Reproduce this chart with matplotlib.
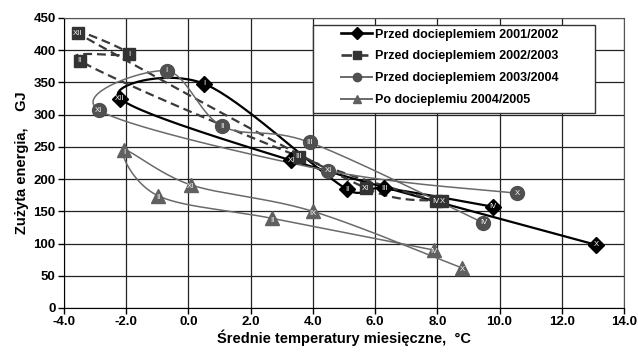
import numpy as np
import matplotlib
matplotlib.use("Agg")
import matplotlib.pyplot as plt
from matplotlib.lines import Line2D
from matplotlib.patches import Rectangle

plt.rcParams['font.family'] = ['Liberation Sans', 'DejaVu Sans']

# series data (x = mean monthly temperature, y = energy used), in drawing order
s1_x = [13.1, 3.3, -2.2, 0.5, 5.1, 6.3, 9.8]
s1_y = [98, 229, 325, 348, 184, 186, 157]
s1_lab = ["X", "XI", "XII", "I", "II", "III", "IV"]

s2_x = [8.15, 5.7, -3.55, -1.9, -3.5, 3.55, 7.95]
s2_y = [166, 186, 426, 394, 384, 235, 166]
s2_lab = ["X", "XI", "XII", "I", "II", "III", "IV"]

s3_x = [10.56, 4.49, -2.88, -0.7, 1.09, 3.9, 9.48]
s3_y = [178, 213, 307, 368, 282, 257, 132]
s3_lab = ["X", "XI", "XI", "I", "II", "III", "IV"]

s4_x = [8.8, 4.0, 0.08, -2.07, -0.97, 2.7, 7.88]
s4_y = [62, 150, 191, 245, 174, 139, 90]
s4_lab = ["X", "IX", "XI", "I", "II", "II", "IV"]

names = ["Przed docieplemiem 2001/2002", "Przed docieplemiem 2002/2003",
         "Przed docieplemiem 2003/2004", "Po docieplemiu 2004/2005"]

XMIN, XMAX, YMIN, YMAX = -4, 14, 0, 450
SX, SY = 560 / 18.0, 290 / 450.0   # px per unit, for smoothing in screen space


def cap(v, lim):
    n = np.hypot(*v)
    return v if n <= lim else v * lim / n


def smooth(xs, ys, n=40):
    p = np.column_stack([np.array(xs) * SX, np.array(ys) * SY])
    pts = []
    for i in range(len(p) - 1):
        p0 = p[i - 1] if i > 0 else p[i]
        p3 = p[i + 2] if i + 2 < len(p) else p[i + 1]
        seg = np.hypot(*(p[i + 1] - p[i]))
        c1 = p[i] + cap((p[i + 1] - p0) / 6.0, 0.5 * seg)
        c2 = p[i + 1] - cap((p3 - p[i]) / 6.0, 0.5 * seg)
        t = np.linspace(0, 1, n)[:, None]
        b = ((1 - t) ** 3 * p[i] + 3 * (1 - t) ** 2 * t * c1
             + 3 * (1 - t) * t ** 2 * c2 + t ** 3 * p[i + 1])
        pts.append(b if i == 0 else b[1:])
    pts = np.vstack(pts)
    return pts[:, 0] / SX, pts[:, 1] / SY


fig = plt.figure(figsize=(6.38, 3.55), dpi=100)
ax = fig.add_axes([64 / 638, 47 / 355, 560 / 638, 290 / 355])

styles = [
    dict(x=s1_x, y=s1_y, lab=s1_lab, lc="black", mc="black", lw=1.6, ls="-", m="D", ms=8.5),
    dict(x=s2_x, y=s2_y, lab=s2_lab, lc="#3a3a3a", mc="#333333", lw=1.6, ls="--", m="s", ms=9),
    dict(x=s3_x, y=s3_y, lab=s3_lab, lc="#6a6a6a", mc="#505050", lw=1.1, ls="-", m="o", ms=10),
    dict(x=s4_x, y=s4_y, lab=s4_lab, lc="#6a6a6a", mc="#606060", lw=1.1, ls="-", m="^", ms=10.5),
]

handles = []
for k, st in enumerate(styles):
    cx, cy = smooth(st["x"], st["y"])
    line, = ax.plot(cx, cy, color=st["lc"], lw=st["lw"], zorder=3 + k)
    if st["ls"] == "--":
        line.set_dashes((4, 2.2))
    ax.plot(st["x"], st["y"], linestyle="none", marker=st["m"], ms=st["ms"],
            color=st["mc"], mec=st["mc"], zorder=8 + k)
    for x, y, t in zip(st["x"], st["y"], st["lab"]):
        dy = -3 if st["m"] == "^" else 0
        ax.text(x, y + dy, t, color="white", fontsize=5.5, ha="center", va="center",
                zorder=12 + k)
    h = Line2D([], [], color=st["lc"], lw=st["lw"] + 0.3, marker=st["m"], ms=6,
               mfc=st["mc"], mec=st["mc"])
    if st["ls"] == "--":
        h.set_dashes((4, 2.2))
    handles.append(h)

ax.set_xlim(XMIN, XMAX)
ax.set_ylim(YMIN, YMAX)
ax.set_xticks(np.arange(-4, 15, 2))
ax.set_xticklabels([f"{v:.1f}" for v in np.arange(-4, 15, 2)])
ax.set_yticks(np.arange(0, 451, 50))
ax.grid(True, color="#222222", lw=0.9)
ax.set_axisbelow(True)
for s in ax.spines.values():
    s.set_color("#555555")
ax.spines["left"].set_color("black")
ax.spines["bottom"].set_color("black")
ax.tick_params(direction="out", length=4, width=1, labelsize=9.5, pad=2)
for lbl in ax.get_xticklabels() + ax.get_yticklabels():
    lbl.set_fontweight("bold")

ax.set_xlabel("Średnie temperatury miesięczne,  °C", fontsize=10.5, fontweight="bold", labelpad=1)
ax.set_ylabel("Zużyta energia,    GJ", fontsize=10.5, fontweight="bold", labelpad=3)

# legend box (Excel style: wide white frame)
ax.add_patch(Rectangle((0.4446, 0.6728), 0.5034, 0.3041, transform=ax.transAxes,
                       facecolor="white", edgecolor="#333333", lw=1, zorder=29,
                       clip_on=False))
leg = ax.legend(handles, names, loc="upper left", bbox_to_anchor=(0.4946, 0.963),
                prop=dict(weight="bold", size=9), frameon=False,
                handlelength=2.5, labelspacing=0.78, borderpad=0,
                handletextpad=0.25, borderaxespad=0)
leg.set_zorder(30)

fig.savefig("out.png", dpi=100)
